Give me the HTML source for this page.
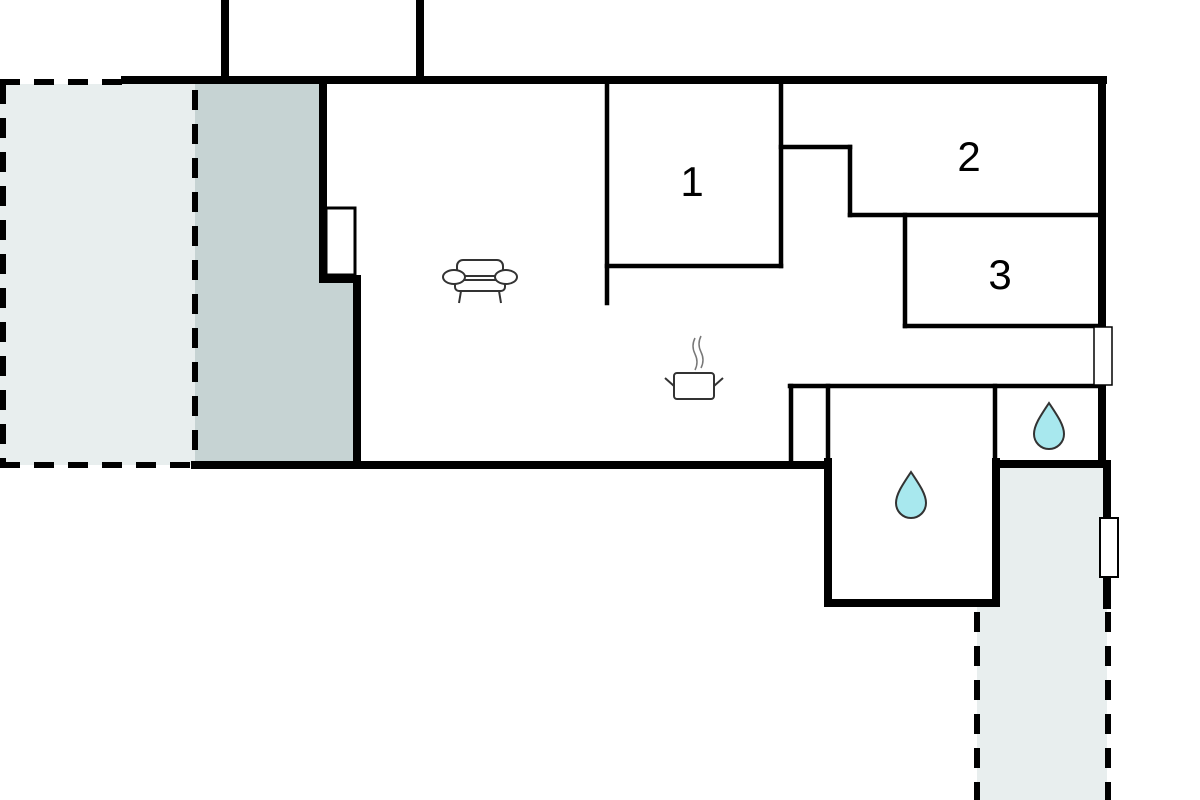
<!DOCTYPE html>
<html><head><meta charset="utf-8"><style>html,body{margin:0;padding:0;background:#fff;width:1200px;height:800px;overflow:hidden}</style></head>
<body>
<svg width="1200" height="800" viewBox="0 0 1200 800" xmlns="http://www.w3.org/2000/svg">
<rect x="0" y="84" width="195" height="381" fill="#e8eeee"/>
<polygon points="195,84 322,84 322,282 355,282 355,463 195,463" fill="#c6d3d3"/>
<polygon points="997,466 1107,466 1107,800 977,800 977,605 997,605" fill="#e8eeee"/>
<g stroke="#000" fill="none" stroke-linecap="square">
<g stroke-width="6" stroke-dasharray="20,14" stroke-linecap="butt">
<line x1="0" y1="82" x2="122" y2="82"/>
<line x1="3" y1="84" x2="3" y2="465"/>
<line x1="0" y1="465" x2="192" y2="465"/>
<line x1="195" y1="90" x2="195" y2="462"/>
<line x1="977" y1="612" x2="977" y2="800"/>
<line x1="1108" y1="612" x2="1108" y2="800"/>
</g>
<g stroke-width="8">
<line x1="225" y1="0" x2="225" y2="78"/>
<line x1="420" y1="0" x2="420" y2="78"/>
<line x1="125" y1="80" x2="1103" y2="80"/>
<line x1="323" y1="82" x2="323" y2="279"/>
<line x1="323" y1="279" x2="356" y2="279"/>
<line x1="357" y1="279" x2="357" y2="465"/>
<line x1="195" y1="465" x2="828" y2="465"/>
<line x1="1102" y1="80" x2="1102" y2="326"/>
<line x1="1102" y1="387" x2="1102" y2="462"/>
<line x1="828" y1="462" x2="828" y2="603"/>
<line x1="828" y1="603" x2="996" y2="603"/>
<line x1="996" y1="462" x2="996" y2="603"/>
<line x1="996" y1="464" x2="1107" y2="464"/>
<line x1="1107" y1="464" x2="1107" y2="518"/>
<line x1="1107" y1="578" x2="1107" y2="605"/>
</g>
<g stroke-width="4.5">
<line x1="607" y1="82" x2="607" y2="303"/>
<line x1="607" y1="266" x2="781" y2="266"/>
<line x1="781" y1="82" x2="781" y2="266"/>
<line x1="781" y1="147" x2="850" y2="147"/>
<line x1="850" y1="147" x2="850" y2="215"/>
<line x1="850" y1="215" x2="1100" y2="215"/>
<line x1="905" y1="215" x2="905" y2="326"/>
<line x1="905" y1="326" x2="1100" y2="326"/>
<line x1="790" y1="386" x2="1100" y2="386"/>
<line x1="791" y1="386" x2="791" y2="463"/>
<line x1="828" y1="386" x2="828" y2="463"/>
<line x1="995" y1="386" x2="995" y2="463"/>
</g>
<rect x="326" y="208" width="29" height="67" stroke-width="3" fill="#fff"/>
<rect x="1094" y="327" width="18" height="58" stroke-width="1.5" fill="#fff"/>
<rect x="1100" y="518" width="18" height="59" stroke-width="2" fill="#fff"/>
</g>
<g font-family="Liberation Sans, sans-serif" font-size="42" text-anchor="middle" fill="#000">
<text x="692" y="196">1</text>
<text x="969" y="171">2</text>
<text x="1000" y="289">3</text>
</g>
<g stroke="#333" stroke-width="2" fill="#fff">
<rect x="457" y="260" width="46" height="16" rx="6"/>
<rect x="455" y="280" width="50" height="11" rx="4"/>
<ellipse cx="454" cy="277" rx="11" ry="7"/>
<ellipse cx="506" cy="277" rx="11" ry="7"/>
<line x1="461" y1="291" x2="459" y2="303"/>
<line x1="499" y1="291" x2="501" y2="303"/>
</g>
<g stroke="#333" stroke-width="2" fill="#fff">
<rect x="674" y="373" width="40" height="26" rx="3"/>
<line x1="665" y1="378" x2="674" y2="386"/>
<line x1="723" y1="378" x2="714" y2="386"/>
<path d="M695 338 q-4 8 0 16 q4 8 0 16" fill="none" stroke="#777" stroke-width="1.5"/>
<path d="M701 336 q-4 8 0 16 q4 8 0 16" fill="none" stroke="#777" stroke-width="1.5"/>
</g>
<g fill="#a8e8ee" stroke="#333" stroke-width="2">
<path d="M911 472 C903 484 896 494 896 503 A15 15 0 0 0 926 503 C926 494 919 484 911 472 Z"/>
<path d="M1049 403 C1041 415 1034 425 1034 434 A15 15 0 0 0 1064 434 C1064 425 1057 415 1049 403 Z"/>
</g>
</svg>
</body></html>
